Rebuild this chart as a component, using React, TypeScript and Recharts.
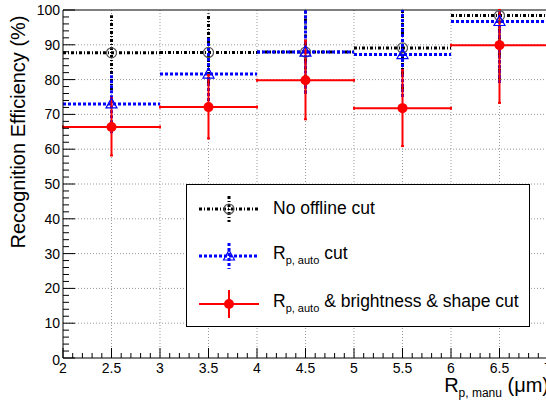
import React from 'react';
import { ComposedChart, Scatter, ErrorBar, XAxis, YAxis, CartesianGrid, ReferenceLine } from 'recharts';

// bin centres (R_p, manu in um) and bin half widths
const binCenters = [2.5, 3.5, 4.5, 5.5, 6.5];
const binHalfWidth = [0.5, 0.5, 0.5, 0.5, 0.5];

// No offline cut
const noCut = [87.7, 87.8, 87.9, 89.1, 98.4];
const noCutLow = [77, 79, 76, 77, 80];
const noCutHigh = [98.5, 99, 100, 100, 100];

// R_p, auto cut
const rpCut = [73.0, 81.6, 87.9, 87.2, 96.7];
const rpCutLow = [64.6, 71, 76, 75, 79];
const rpCutHigh = [82, 92, 100, 100, 100];

// R_p, auto & brightness & shape cut
const fullCut = [66.4, 72.1, 79.8, 71.8, 89.9];
const fullCutLow = [58.2, 63.1, 68.6, 60.9, 73.3];
const fullCutHigh = [74.7, 81.3, 91.2, 82.7, 100];

const xMajorTicks = [2, 2.5, 3, 3.5, 4, 4.5, 5, 5.5, 6, 6.5, 7];
const yMajorTicks = [0, 10, 20, 30, 40, 50, 60, 70, 80, 90, 100];

// minor ticks: x every 0.1, y every 2
const xTicks: number[] = [];
for (let i = 20; i <= 70; i++) xTicks.push(i / 10);
const yTicks: number[] = [];
for (let i = 0; i <= 100; i += 2) yTicks.push(i);

const rows = binCenters.map((x, i) => ({
  x,
  xErr: [binHalfWidth[i], binHalfWidth[i]],
  noCut: noCut[i],
  noCutErr: [noCut[i] - noCutLow[i], noCutHigh[i] - noCut[i]],
  rpCut: rpCut[i],
  rpCutErr: [rpCut[i] - rpCutLow[i], rpCutHigh[i] - rpCut[i]],
  fullCut: fullCut[i],
  fullCutErr: [fullCut[i] - fullCutLow[i], fullCutHigh[i] - fullCut[i]],
}));

const FONT = '"Liberation Sans", Arial, Helvetica, sans-serif';
const BLACK_DASH = '3 2 1 2';
const BLUE_DASH = '3 2';

const isMajorX = (v: number) => xMajorTicks.some((t) => Math.abs(t - v) < 1e-6);
const isMajorY = (v: number) => yMajorTicks.includes(v);

const XTick = (props: any) => {
  const { x, y, payload } = props;
  const v = payload.value;
  const major = isMajorX(v);
  return (
    <g>
      <line x1={x} x2={x} y1={y} y2={y - (major ? 10 : 5)} stroke="#000" />
      {major && (
        <text x={x} y={y + 15} textAnchor="middle" fontSize={14} fontFamily={FONT} fill="#000">
          {v}
        </text>
      )}
    </g>
  );
};

const YTick = (props: any) => {
  const { x, y, payload } = props;
  const v = payload.value;
  const major = isMajorY(v);
  return (
    <g>
      <line x1={x} x2={x + (major ? 12 : 6)} y1={y} y2={y} stroke="#000" />
      {major && (
        <text x={x - 3} y={y + (v === 0 ? 7 : 5)} textAnchor="end" fontSize={14} fontFamily={FONT} fill="#000">
          {v}
        </text>
      )}
    </g>
  );
};

const OpenCircle = (p: any) => <circle cx={p.cx} cy={p.cy} r={5} fill="none" stroke="#555" strokeWidth={1.2} />;
const OpenTriangle = (p: any) => (
  <polygon
    points={`${p.cx},${p.cy - 6} ${p.cx - 5.5},${p.cy + 4} ${p.cx + 5.5},${p.cy + 4}`}
    fill="none"
    stroke="#0000ff"
    strokeWidth={1.2}
  />
);
const FullCircle = (p: any) => <circle cx={p.cx} cy={p.cy} r={5} fill="#ff0000" />;

const Sub = ({ children }: { children: React.ReactNode }) => (
  <span style={{ fontSize: 11, position: 'relative', top: 5 }}>{children}</span>
);

function LegendBox() {
  const rowsY = [24, 71, 119];
  return (
    <div
      style={{
        position: 'absolute',
        left: 186,
        top: 184,
        width: 344,
        height: 143,
        border: '1px solid #000',
        background: '#fff',
        boxSizing: 'border-box',
        fontFamily: FONT,
        fontSize: 17.5,
        color: '#000',
      }}
    >
      <svg width={344} height={143} style={{ position: 'absolute', left: 0, top: 0 }}>
        <line x1={12} x2={72} y1={rowsY[0]} y2={rowsY[0]} stroke="#000" strokeWidth={3} strokeDasharray={BLACK_DASH} />
        <line x1={42} x2={42} y1={rowsY[0] - 13} y2={rowsY[0] + 13} stroke="#000" strokeWidth={3} strokeDasharray={BLACK_DASH} />
        <OpenCircle cx={42} cy={rowsY[0]} />
        <line x1={12} x2={72} y1={rowsY[1]} y2={rowsY[1]} stroke="#0000ff" strokeWidth={3} strokeDasharray={BLUE_DASH} />
        <line x1={42} x2={42} y1={rowsY[1] - 13} y2={rowsY[1] + 13} stroke="#0000ff" strokeWidth={3} strokeDasharray={BLUE_DASH} />
        <OpenTriangle cx={42} cy={rowsY[1]} />
        <line x1={12} x2={72} y1={rowsY[2]} y2={rowsY[2]} stroke="#ff0000" strokeWidth={2} />
        <line x1={42} x2={42} y1={rowsY[2] - 14} y2={rowsY[2] + 14} stroke="#ff0000" strokeWidth={2} />
        <FullCircle cx={42} cy={rowsY[2]} />
      </svg>
      <div style={{ position: 'absolute', left: 86, top: rowsY[0] - 12, whiteSpace: 'nowrap', lineHeight: '22px' }}>No offline cut</div>
      <div style={{ position: 'absolute', left: 86, top: rowsY[1] - 14, whiteSpace: 'nowrap', lineHeight: '22px' }}>
        R<Sub>p, auto</Sub> cut
      </div>
      <div style={{ position: 'absolute', left: 86, top: rowsY[2] - 14, whiteSpace: 'nowrap', lineHeight: '22px' }}>
        R<Sub>p, auto</Sub> &amp; brightness &amp; shape cut
      </div>
    </div>
  );
}

export default function App() {
  return (
    <div style={{ position: 'absolute', left: 0, top: 0, width: 546, height: 404, overflow: 'hidden', background: '#fff' }}>
      <ComposedChart width={548} height={404} data={rows} margin={{ top: 10, right: 0, bottom: 0, left: 0 }}>
        <CartesianGrid
          horizontal
          vertical
          horizontalValues={[10, 20, 30, 40, 50, 60, 70, 80, 90]}
          verticalValues={[2.5, 3, 3.5, 4, 4.5, 5, 5.5, 6, 6.5]}
          stroke="#999"
          strokeDasharray="1 2"
        />
        <XAxis
          type="number"
          dataKey="x"
          domain={[2, 7]}
          ticks={xTicks}
          interval={0}
          allowDataOverflow
          height={46}
          tickSize={0}
          tickMargin={0}
          tickLine={false}
          tick={<XTick />}
          axisLine={{ stroke: '#000' }}
        />
        <YAxis
          type="number"
          domain={[0, 100]}
          ticks={yTicks}
          interval={0}
          allowDataOverflow
          width={63}
          tickSize={0}
          tickMargin={0}
          tickLine={false}
          tick={<YTick />}
          axisLine={{ stroke: '#000' }}
        />
        <ReferenceLine y={100} stroke="#000" />
        <Scatter dataKey="noCut" shape={OpenCircle} isAnimationActive={false}>
          <ErrorBar dataKey="xErr" direction="x" width={0} stroke="#000" strokeWidth={3} strokeDasharray={BLACK_DASH} isAnimationActive={false} />
          <ErrorBar dataKey="noCutErr" direction="y" width={0} stroke="#000" strokeWidth={3} strokeDasharray={BLACK_DASH} isAnimationActive={false} />
        </Scatter>
        <Scatter dataKey="rpCut" shape={OpenTriangle} isAnimationActive={false}>
          <ErrorBar dataKey="xErr" direction="x" width={0} stroke="#0000ff" strokeWidth={3} strokeDasharray={BLUE_DASH} isAnimationActive={false} />
          <ErrorBar dataKey="rpCutErr" direction="y" width={0} stroke="#0000ff" strokeWidth={3} strokeDasharray={BLUE_DASH} isAnimationActive={false} />
        </Scatter>
        <Scatter dataKey="fullCut" shape={FullCircle} isAnimationActive={false}>
          <ErrorBar dataKey="xErr" direction="x" width={1.5} stroke="#ff0000" strokeWidth={2} isAnimationActive={false} />
          <ErrorBar dataKey="fullCutErr" direction="y" width={1.5} stroke="#ff0000" strokeWidth={2} isAnimationActive={false} />
        </Scatter>
      </ComposedChart>
      <svg width={548} height={404} style={{ position: 'absolute', left: 0, top: 0, pointerEvents: 'none' }}>
        <text
          transform="translate(25, 132) rotate(-90)"
          textAnchor="middle"
          fontSize={20}
          fontFamily={FONT}
          fill="#000"
        >
          Recognition Efficiency (%)
        </text>
        <text x={549} y={392} textAnchor="end" fontSize={20} fontFamily={FONT} fill="#000">
          <tspan>R</tspan>
          <tspan fontSize={12} dy={5}>p, manu</tspan>
          <tspan dy={-5}> (μm)</tspan>
        </text>
      </svg>
      <LegendBox />
    </div>
  );
}
